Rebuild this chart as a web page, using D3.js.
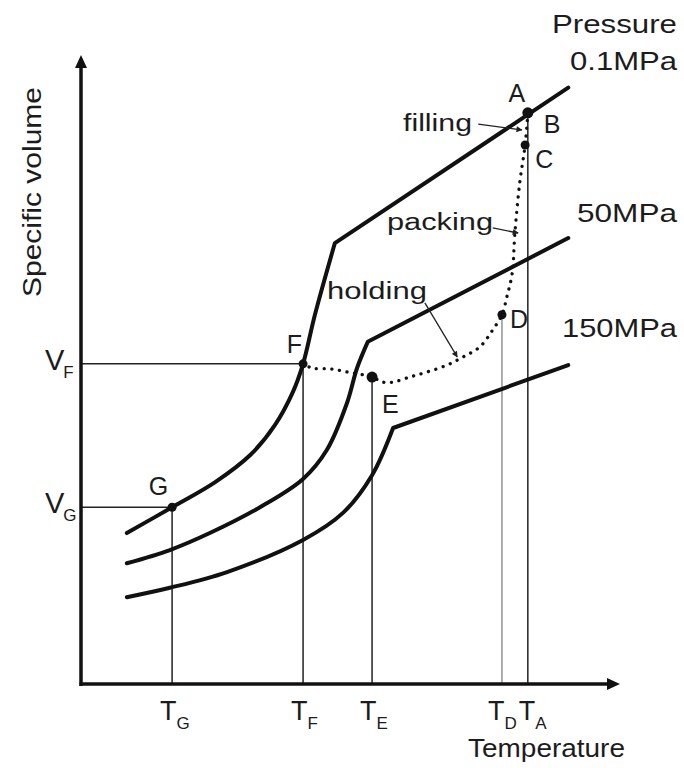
<!DOCTYPE html>
<html>
<head>
<meta charset="utf-8">
<script src="https://cdn.jsdelivr.net/npm/d3@7"></script>
<style>
  body { margin: 0; background: #fff; }
  text { font-family: Arial, "Liberation Sans", sans-serif; fill: #1c1c1c; }
</style>
</head>
<body>
<div id="chart"></div>
<script>
// pvT curves, temperature and specific volume in arbitrary units (0-100)
var pressures = ['0.1MPa', '50MPa', '150MPa'];
var p01Temp = [8.5, 16.9, 24.9, 31.4, 36.0, 39.3, 41.2, 43.4, 47.1, 90.4];
var p01Vol = [24.0, 28.1, 32.1, 36.4, 41.2, 46.4, 50.9, 58.7, 70.1, 94.8];
var p50Temp = [8.5, 16.5, 23.9, 33.2, 41.2, 45.6, 49.4, 51.2, 53.2, 90.4];
var p50Vol = [19.2, 21.3, 24.0, 28.1, 32.6, 37.2, 44.8, 50.2, 54.4, 70.9];
var p150Temp = [8.5, 16.5, 27.1, 41.2, 48.6, 54.0, 57.9, 90.4];
var p150Vol = [13.8, 15.3, 17.8, 22.9, 27.2, 33.2, 40.7, 50.7];

// moulding process path A -> C -> D -> E -> F
var procTemp = [82.9, 82.4, 81.4, 80.5, 80.0, 79.0, 78.1, 76.4, 74.0, 70.9, 67.9, 64.2, 61.0, 57.9, 56.0, 54.0, 49.4, 46.2, 43.0, 41.2];
var procVol = [90.8, 85.7, 79.7, 71.7, 65.3, 61.5, 58.7, 56.3, 53.6, 52.0, 50.7, 49.6, 48.8, 48.0, 48.0, 48.8, 49.6, 50.1, 50.2, 50.9];

var pointNames = ['A', 'C', 'D', 'E', 'F', 'G'];
var pointTemp = [82.9, 82.4, 78.1, 54.0, 41.2, 16.9];
var pointVol = [90.8, 85.7, 58.7, 48.8, 50.9, 28.1];

var tickNames = ['G', 'F', 'E', 'D', 'A'];
var volNames = ['F', 'G'];

var annoNames = ['filling', 'packing', 'holding'];
var annoFromT = [73.7, 76.4, 63.8];
var annoFromV = [89.0, 72.5, 60.6];
var annoToT = [81.8, 81.1, 69.8];
var annoToV = [88.1, 71.7, 52.0];

var W = 684, H = 768;
var svg = d3.select('#chart').append('svg')
  .attr('width', W)
  .attr('height', H);

var x = d3.scaleLinear().domain([0, 100]).range([81, 620]);
var y = d3.scaleLinear().domain([0, 100]).range([684, 55]);

var defs = svg.append('defs');
defs.append('marker')
  .attr('id', 'head')
  .attr('viewBox', '0 0 10 10')
  .attr('refX', 9).attr('refY', 5)
  .attr('markerWidth', 7).attr('markerHeight', 6)
  .attr('markerUnits', 'userSpaceOnUse')
  .attr('orient', 'auto')
  .append('path').attr('d', 'M0,0L10,5L0,10z').attr('fill', '#222');

function idx(name) { return pointNames.indexOf(name); }

// guide lines
tickNames.forEach(function(n) {
  var i = idx(n);
  svg.append('line')
    .attr('x1', x(pointTemp[i])).attr('x2', x(pointTemp[i]))
    .attr('y1', y(pointVol[i])).attr('y2', y(0))
    .attr('stroke', n === 'D' ? '#777' : '#222')
    .attr('stroke-width', n === 'D' ? 1.2 : 1.5);
});
volNames.forEach(function(n) {
  var i = idx(n);
  svg.append('line')
    .attr('x1', x(0)).attr('x2', x(pointTemp[i]))
    .attr('y1', y(pointVol[i])).attr('y2', y(pointVol[i]))
    .attr('stroke', '#222').attr('stroke-width', 1.5);
});

// axes with arrow heads
svg.append('line')
  .attr('x1', x(0)).attr('x2', x(0))
  .attr('y1', y(0) + 2).attr('y2', y(98))
  .attr('stroke', '#111').attr('stroke-width', 3.5);
svg.append('line')
  .attr('x1', x(0) - 1.5).attr('x2', x(98))
  .attr('y1', y(0)).attr('y2', y(0))
  .attr('stroke', '#111').attr('stroke-width', 3.5);
svg.append('path')
  .attr('d', 'M' + x(0) + ',' + y(100) + 'L' + (x(0) + 6) + ',' + (y(100) + 13) + 'L' + (x(0) - 6) + ',' + (y(100) + 13) + 'Z')
  .attr('fill', '#111');
svg.append('path')
  .attr('d', 'M' + x(100) + ',' + y(0) + 'L' + (x(100) - 13) + ',' + (y(0) - 6) + 'L' + (x(100) - 13) + ',' + (y(0) + 6) + 'Z')
  .attr('fill', '#111');

// pressure curves: smooth part up to the kink, straight melt line after
var smooth = d3.line().x(function(d) { return x(d[0]); }).y(function(d) { return y(d[1]); })
  .curve(d3.curveCatmullRom.alpha(0.5));
var straight = d3.line().x(function(d) { return x(d[0]); }).y(function(d) { return y(d[1]); });

[[p01Temp, p01Vol], [p50Temp, p50Vol], [p150Temp, p150Vol]].forEach(function(s) {
  var pts = s[0].map(function(t, i) { return [t, s[1][i]]; });
  var k = pts.length - 2;
  svg.append('path')
    .attr('d', smooth(pts.slice(0, k + 1)) + straight(pts.slice(k)).replace('M', 'L'))
    .attr('fill', 'none')
    .attr('stroke', '#111')
    .attr('stroke-width', 4)
    .attr('stroke-linejoin', 'round')
    .attr('stroke-linecap', 'round');
});

// dotted process path
var proc = procTemp.map(function(t, i) { return [t, procVol[i]]; });
svg.append('path')
  .attr('d', smooth(proc))
  .attr('fill', 'none')
  .attr('stroke', '#111')
  .attr('stroke-width', 3.3)
  .attr('stroke-linecap', 'round')
  .attr('stroke-dasharray', '0.1,7.6');

// state points
pointNames.forEach(function(n, i) {
  svg.append('circle')
    .attr('cx', x(pointTemp[i]))
    .attr('cy', y(pointVol[i]))
    .attr('r', (n === 'A' || n === 'E') ? 5.5 : 4.5)
    .attr('fill', '#111');
});

// annotation arrows
annoNames.forEach(function(n, i) {
  svg.append('line')
    .attr('x1', x(annoFromT[i])).attr('y1', y(annoFromV[i]))
    .attr('x2', x(annoToT[i])).attr('y2', y(annoToV[i]))
    .attr('stroke', '#222').attr('stroke-width', 1.3)
    .attr('marker-end', 'url(#head)');
});

function label(txt, px, py, size, opts) {
  opts = opts || {};
  var t = svg.append('text')
    .attr('x', px).attr('y', py)
    .attr('font-size', size)
    .attr('text-anchor', opts.anchor || 'start')
    .text(txt);
  if (opts.len) t.attr('textLength', opts.len).attr('lengthAdjust', 'spacingAndGlyphs');
  return t;
}

// point letters
var offs = { A: [-11, -11, 'middle'], C: [10, 23, 'start'], D: [8, 13, 'start'],
             E: [10, 36, 'start'], F: [-1, -11, 'end'], G: [-4, -12, 'end'] };
pointNames.forEach(function(n, i) {
  var o = offs[n];
  label(n, x(pointTemp[i]) + o[0], y(pointVol[i]) + o[1], 25, { anchor: o[2] });
});
label('B', x(pointTemp[0]) + 16, y(pointVol[0]) + 20, 25);

// temperature tick labels
tickNames.forEach(function(n) {
  var i = idx(n);
  var t = svg.append('text')
    .attr('x', x(pointTemp[i]) - (n === 'D' ? 14 : n === 'A' ? 9 : 12))
    .attr('y', y(0) + 36)
    .attr('font-size', 27);
  t.append('tspan').text('T');
  t.append('tspan').attr('font-size', 17).attr('dy', 9).text(n);
});

// volume labels
volNames.forEach(function(n) {
  var i = idx(n);
  var t = svg.append('text')
    .attr('x', 45)
    .attr('y', y(pointVol[i]) + 6)
    .attr('font-size', 29);
  t.append('tspan').text('V');
  t.append('tspan').attr('font-size', 17).attr('dx', -1).attr('dy', 8).text(n);
});

// axis titles
label('Temperature', 468, 757, 26, { len: 157 });
svg.append('text')
  .attr('transform', 'translate(41,192) rotate(-90)')
  .attr('font-size', 26)
  .attr('text-anchor', 'middle')
  .attr('textLength', 210)
  .attr('lengthAdjust', 'spacingAndGlyphs')
  .text('Specific volume');

// pressure labels
label('Pressure', 552, 33, 26, { len: 125 });
label(pressures[0], 570, 70, 26, { len: 107 });
label(pressures[1], 577, 222, 26, { len: 100 });
label(pressures[2], 562, 337, 26, { len: 115 });

// process step labels
label(annoNames[0], 403, 131, 23, { len: 69 });
label(annoNames[1], 387, 230, 23, { len: 106 });
label(annoNames[2], 327, 299, 23, { len: 100 });
</script>
</body>
</html>
